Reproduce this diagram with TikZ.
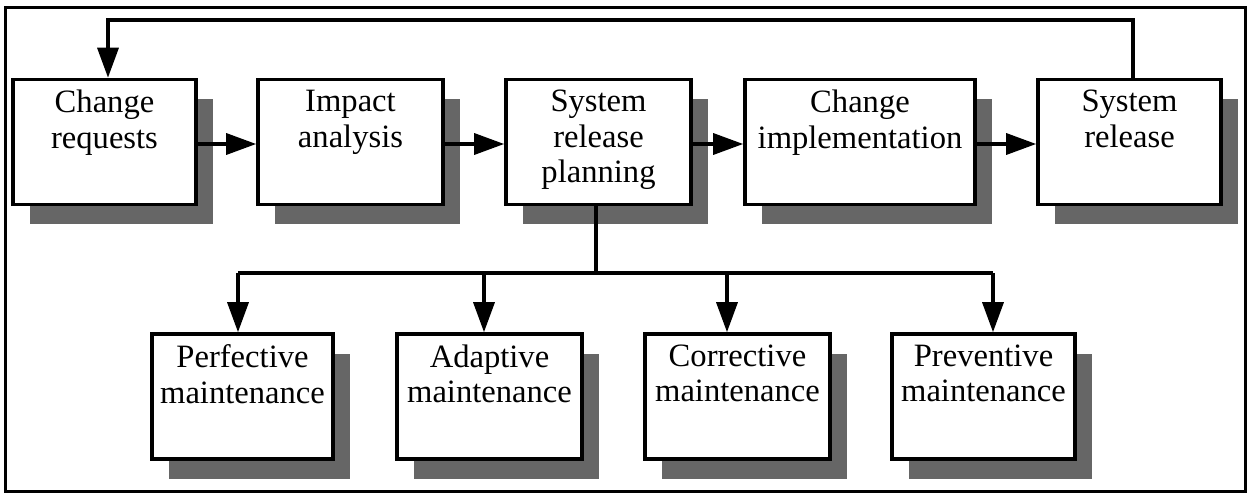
\documentclass[tikz,border=0pt]{standalone}
\usepackage{fontspec}
\setmainfont{Liberation Serif}
\usetikzlibrary{shadows,arrows.meta,calc}
\begin{document}
\begin{tikzpicture}[x=0.5pt,y=-0.5pt,
  box/.style={draw=black,line width=1.8pt,fill=white,minimum height=62.5pt,inner sep=0pt,
    drop shadow={shadow xshift=8.5pt,shadow yshift=-9.75pt,fill=black!60,opacity=1}},
  lbl/.style={anchor=north,inner sep=0pt,align=center,font=\fontsize{16.3}{17.8}\selectfont},
  conn/.style={line width=1.7pt,-{Triangle[length=15pt,width=10.5pt]}},
  line/.style={line width=1.7pt}]
\useasboundingbox (0,0) rectangle (1250,493);
\draw[line width=1.5pt] (5,7) rectangle (1245,491);
% top row
\node[box,minimum width=91.5pt] (cr) at (104.5,142) {};
\node[box,minimum width=92.5pt] (ia) at (350.5,142) {};
\node[box,minimum width=92.5pt] (srp) at (598.5,142) {};
\node[box,minimum width=115pt] (ci) at (860,142) {};
\node[box,minimum width=91.5pt] (sr) at (1129.5,142) {};
% bottom row
\node[box,minimum width=90.5pt] (pm) at (242.5,396.5) {};
\node[box,minimum width=92.5pt] (am) at (489.5,396.5) {};
\node[box,minimum width=92.5pt] (cm) at (737.5,396.5) {};
\node[box,minimum width=91.5pt] (prm) at (983.5,396.5) {};
% labels
\node[lbl] (tcr) at ($(cr.north)+(0,12)$) {Change\\requests};
\node[lbl] (tia) at ($(ia.north)+(0,12)$) {Impact\\analysis};
\node[lbl] (tsrp) at ($(srp.north)+(0,12)$) {System\\release\\planning};
\node[lbl] (tci) at ($(ci.north)+(0,12)$) {Change\\implementation};
\node[lbl] (tsr) at ($(sr.north)+(0,12)$) {System\\release};
\node[lbl] (tpm) at ($(pm.north)+(0,12)$) {Perfective\\maintenance};
\node[lbl] (tam) at ($(am.north)+(0,12)$) {Adaptive\\maintenance};
\node[lbl] (tcm) at ($(cm.north)+(0,12)$) {Corrective\\maintenance};
\node[lbl] (tprm) at ($(prm.north)+(0,12)$) {Preventive\\maintenance};
% horizontal arrows
\draw[conn] ($(cr.east)+(0,2)$) -- ($(ia.west)+(0,2)$);
\draw[conn] ($(ia.east)+(0,2)$) -- ($(srp.west)+(0,2)$);
\draw[conn] ($(srp.east)+(0,2)$) -- ($(ci.west)+(0,2)$);
\draw[conn] ($(ci.east)+(0,2)$) -- ($(sr.west)+(0,2)$);
% feedback loop
\coordinate (fbR) at (1133,20);
\coordinate (fbL) at (108,20);
\draw[conn] (sr.north -| fbR) -- (fbR) -- (fbL) -- (fbL |- cr.north);
% bus to maintenance types
\coordinate (bus) at (596,273);
\coordinate (b1) at (238,273);
\coordinate (b2) at (484,273);
\coordinate (b3) at (727,273);
\coordinate (b4) at (993,273);
\draw[line] (srp.south -| bus) -- (bus);
\draw[line] (b1) -- (b4);
\draw[conn] (b1) -- (b1 |- pm.north);
\draw[conn] (b2) -- (b2 |- am.north);
\draw[conn] (b3) -- (b3 |- cm.north);
\draw[conn] (b4) -- (b4 |- prm.north);
\end{tikzpicture}
\end{document}
